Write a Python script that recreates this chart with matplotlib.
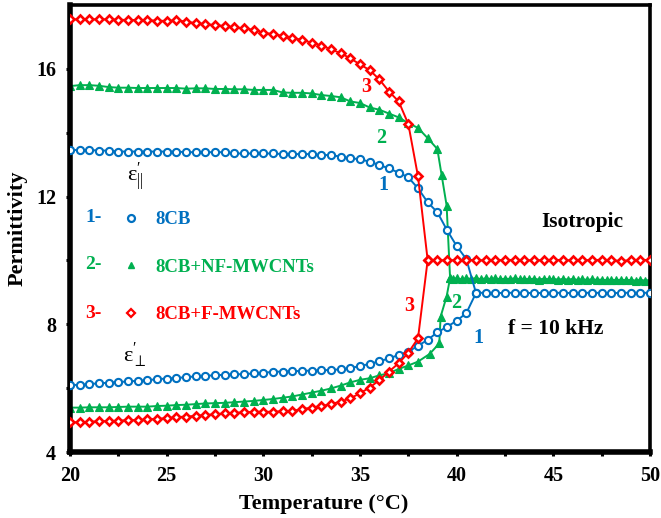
import numpy as np
import matplotlib
matplotlib.use("Agg")
import matplotlib.pyplot as plt
from matplotlib.lines import Line2D

plt.rcParams['font.family'] = ['Liberation Serif', 'DejaVu Serif']
plt.rcParams['mathtext.fontset'] = 'custom'
plt.rcParams['mathtext.rm'] = 'Liberation Serif'
plt.rcParams['mathtext.it'] = 'Liberation Serif'

# ---------------- data ----------------
# 8CB (1)
T_blue = list(np.arange(20.0, 40.51, 0.5))
blue_par = [13.46, 13.46, 13.46, 13.44, 13.44, 13.41, 13.41, 13.41, 13.41, 13.41,
            13.41, 13.41, 13.39, 13.39, 13.39, 13.39, 13.39, 13.35, 13.35, 13.35,
            13.35, 13.35, 13.33, 13.33, 13.33, 13.33, 13.30, 13.30, 13.25, 13.20,
            13.17, 13.09, 12.99, 12.88, 12.75, 12.60, 12.26, 11.82, 11.51, 10.95,
            10.45, 10.04]
blue_perp = [6.10, 6.10, 6.13, 6.15, 6.17, 6.19, 6.21, 6.23, 6.25, 6.28,
             6.30, 6.32, 6.34, 6.37, 6.39, 6.40, 6.42, 6.43, 6.44, 6.46,
             6.48, 6.51, 6.52, 6.53, 6.54, 6.55, 6.56, 6.57, 6.59, 6.63,
             6.69, 6.76, 6.84, 6.93, 7.04, 7.14, 7.33, 7.51, 7.75, 7.92,
             8.11, 8.35]
T_blue_iso = list(np.arange(41.0, 50.01, 0.5))
blue_iso = [8.98, 8.99, 8.98, 8.98, 8.99, 8.98, 8.98, 8.98, 8.99, 8.98,
            8.98, 8.98, 8.99, 8.98, 8.98, 8.98, 8.99, 8.98, 8.99]

# 8CB+NF-MWCNTs (2)
T_green_par = list(np.arange(20.0, 39.01, 0.5)) + [39.22, 39.48]
green_par = [15.46, 15.49, 15.49, 15.47, 15.43, 15.41, 15.41, 15.40, 15.40, 15.40,
             15.40, 15.40, 15.38, 15.39, 15.39, 15.37, 15.37, 15.36, 15.36, 15.34,
             15.34, 15.34, 15.26, 15.25, 15.25, 15.23, 15.18, 15.15, 15.11, 14.98,
             14.93, 14.79, 14.72, 14.60, 14.48, 14.30, 14.15, 13.83, 13.49, 12.68,
             11.72]
T_green_perp = list(np.arange(20.0, 38.01, 0.5)) + [38.6, 39.1, 39.17, 39.48]
green_perp = [5.39, 5.39, 5.40, 5.40, 5.40, 5.41, 5.42, 5.42, 5.42, 5.44,
              5.45, 5.47, 5.48, 5.50, 5.52, 5.53, 5.54, 5.56, 5.58, 5.60,
              5.63, 5.66, 5.70, 5.74, 5.80, 5.86, 5.92, 5.99, 6.08, 6.18,
              6.26, 6.31, 6.40, 6.47, 6.60, 6.71, 6.83, 7.07, 7.40, 8.24,
              8.87]
T_green_iso = [39.66, 39.83] + list(np.arange(40.0, 50.01, 0.25))
green_iso = [9.45, 9.43, 9.44, 9.41, 9.44, 9.42, 9.45, 9.41, 9.44, 9.42,
             9.44, 9.41, 9.43, 9.42, 9.44, 9.41, 9.43, 9.41, 9.43, 9.40,
             9.43, 9.41, 9.42, 9.40, 9.42, 9.40, 9.42, 9.39, 9.41, 9.39,
             9.41, 9.39, 9.40, 9.38, 9.40, 9.38, 9.40, 9.38, 9.39, 9.37,
             9.39, 9.37, 9.39]

# 8CB+F-MWCNTs (3)
T_red = list(np.arange(20.0, 38.01, 0.5))
red_par = [17.55, 17.55, 17.55, 17.55, 17.55, 17.54, 17.53, 17.53, 17.52, 17.51,
           17.50, 17.52, 17.48, 17.43, 17.40, 17.37, 17.34, 17.30, 17.27, 17.22,
           17.13, 17.09, 17.03, 16.98, 16.90, 16.82, 16.73, 16.61, 16.49, 16.33,
           16.14, 15.96, 15.67, 15.29, 14.98, 14.27, 12.63]
red_perp = [4.93, 4.93, 4.95, 4.96, 4.97, 4.98, 5.00, 5.00, 5.02, 5.04,
            5.06, 5.09, 5.11, 5.13, 5.16, 5.18, 5.21, 5.23, 5.24, 5.26,
            5.26, 5.26, 5.28, 5.29, 5.34, 5.39, 5.44, 5.50, 5.58, 5.68,
            5.84, 6.02, 6.25, 6.52, 6.78, 7.11, 7.56]
T_red_iso = list(np.arange(38.5, 50.01, 0.5))
red_iso = [10.01, 10.01, 10.00, 10.01, 10.02, 10.01, 10.00, 10.01, 10.01, 10.02,
           10.01, 10.00, 10.01, 10.02, 10.01, 10.00, 10.01, 10.01, 10.02, 10.01,
           9.98, 10.01, 10.02, 10.01]

labels = ["8CB", "8CB+NF-MWCNTs", "8CB+F-MWCNTs"]
prefixes = ["1-", "2-", "3-"]

BLUE = '#0070C0'
GREEN = '#00B050'
RED = '#FF0000'

# ---------------- figure ----------------
fig = plt.figure(figsize=(6.61, 5.18), dpi=100)
ax = fig.add_axes([70/661, 1 - 452/518, 580/661, 447/518])

blue_kw = dict(color=BLUE, lw=1.4, marker='o', ms=5.2, mfc='white', mec=BLUE, mew=1.5, zorder=3)
green_kw = dict(color=GREEN, lw=1.4, marker='^', ms=5.6, mfc=GREEN, mec=GREEN, mew=0.8, zorder=2)
red_kw = dict(color=RED, lw=1.4, marker='D', ms=4.3, mfc='white', mec=RED, mew=1.9, zorder=4)

# green
ax.plot(T_green_par + T_green_iso, green_par + green_iso, **green_kw)
ax.plot(T_green_perp + T_green_iso[:1], green_perp + green_iso[:1], **green_kw)
# blue
ax.plot(T_blue + T_blue_iso, blue_par + blue_iso, **blue_kw)
ax.plot(T_blue + T_blue_iso[:1], blue_perp + blue_iso[:1], **blue_kw)
# red
ax.plot(T_red + T_red_iso, red_par + red_iso, **red_kw)
ax.plot(T_red + T_red_iso[:1], red_perp + red_iso[:1], **red_kw)

ax.set_xlim(20, 50)
ax.set_ylim(4, 18)
ax.set_xticks([20, 25, 30, 35, 40, 45, 50])
ax.set_xticks(np.arange(22.5, 50, 5), minor=True)
ax.set_yticks([4, 8, 12, 16])
ax.set_yticks([6, 10, 14], minor=True)

for s in ['left', 'bottom']:
    ax.spines[s].set_linewidth(4.0)
for s in ['top', 'right']:
    ax.spines[s].set_linewidth(2.6)

ax.tick_params(which='both', direction='out', length=3, width=2.2, color='black')
ax.tick_params(which='major', labelsize=14.5, pad=7)
for lab in ax.get_xticklabels() + ax.get_yticklabels():
    lab.set_fontweight('bold')

ax.set_xlabel('Temperature (°C)', fontsize=16, fontweight='bold', labelpad=2)
ax.xaxis.set_label_coords(0.438, -0.095)
ax.set_ylabel('Permittivity', fontsize=16, fontweight='bold', labelpad=6)

# curve labels
tk = dict(fontsize=14.5, fontweight='bold', ha='center', va='center')
ax.text(35.31, 15.43, '3', color=RED, **tk)
ax.text(36.09, 13.83, '2', color=GREEN, **tk)
ax.text(36.19, 12.36, '1', color=BLUE, **tk)
ax.text(37.54, 8.57, '3', color=RED, **tk)
ax.text(40.0, 8.66, '2', color=GREEN, **tk)
ax.text(41.1, 7.57, '1', color=BLUE, **tk)

ax.text(46.5, 11.2, 'Isotropic', fontsize=15.5, fontweight='bold', ha='center', va='center')
ax.text(45.1, 7.85, 'f = 10 kHz', fontsize=15.5, fontweight='bold', ha='center', va='center')

# epsilon labels
ax.text(23.35, 12.6, r"$\mathrm{\varepsilon}^{\prime}_{||}$", fontsize=16, ha='center', va='center')
ax.text(23.35, 7.02, r"$\mathrm{\varepsilon}^{\prime}_{\perp}$", fontsize=16, ha='center', va='center')

# legend-like block
colors = [BLUE, GREEN, RED]
handles = [
    Line2D([], [], ls='none', marker='o', ms=5, mfc='white', mec=BLUE, mew=1.6),
    Line2D([], [], ls='none', marker='^', ms=5, mfc=GREEN, mec=GREEN),
    Line2D([], [], ls='none', marker='D', ms=4, mfc='white', mec=RED, mew=1.6),
]
leg = ax.legend(handles, labels, loc='upper left', bbox_to_anchor=(122/661, 1 - 211/518),
                bbox_transform=fig.transFigure, frameon=False, borderpad=0, borderaxespad=0,
                handlelength=1.0, handletextpad=0.8, labelspacing=1.62,
                prop={'family': 'Liberation Serif', 'weight': 'bold', 'size': 13.5})
for t, c in zip(leg.get_texts(), colors):
    t.set_color(c)

row_y = [11.33, 9.86, 8.35]
for p, yy, c in zip(prefixes, row_y, colors):
    ax.text(20.78, yy, p, color=c, fontsize=14, fontweight='bold', ha='left', va='center')

fig.savefig('out.png', dpi=100)
